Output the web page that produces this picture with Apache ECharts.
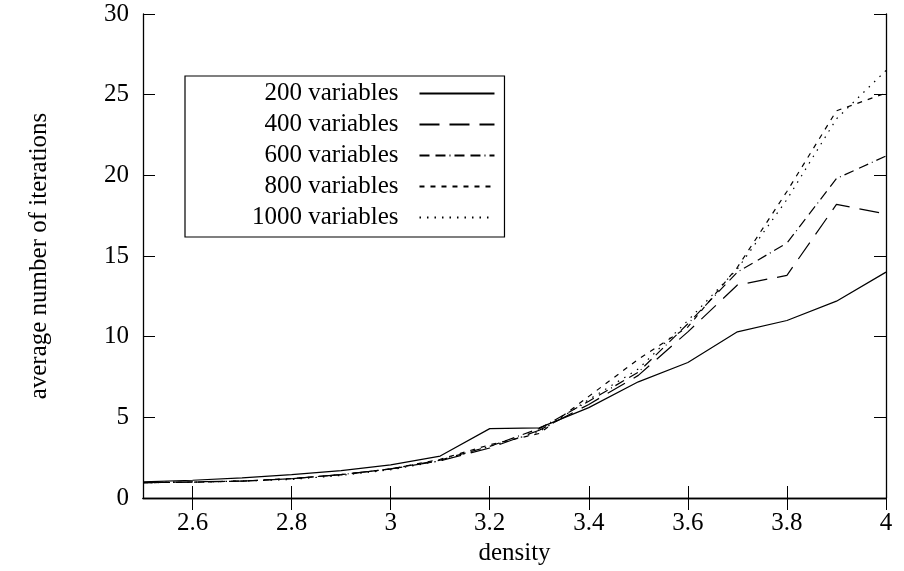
<!DOCTYPE html>
<html>
<head>
<meta charset="utf-8">
<script src="https://cdn.jsdelivr.net/npm/echarts@6/dist/echarts.min.js"></script>
<style>html,body{margin:0;padding:0;background:#fff}#c{width:904px;height:571px}</style>
</head>
<body>
<div id="c"></div>
<script>
const densities = [2.5, 2.6, 2.7, 2.8, 2.9, 3.0, 3.1, 3.2, 3.3, 3.4, 3.5, 3.6, 3.7, 3.8, 3.9, 4.0];
const v200  = [1.0, 1.1, 1.25, 1.45, 1.7, 2.05, 2.6, 4.3, 4.35, 5.6, 7.2, 8.4, 10.3, 11.0, 12.2, 14.0];
const v400  = [0.95, 1.0, 1.05, 1.2, 1.45, 1.8, 2.3, 3.1, 4.2, 5.8, 7.6, 10.3, 13.2, 13.8, 18.2, 17.6];
const v600  = [0.95, 0.98, 1.05, 1.2, 1.45, 1.8, 2.35, 3.2, 4.3, 6.0, 7.8, 10.8, 14.0, 15.8, 19.8, 21.2];
const v800  = [0.95, 0.98, 1.05, 1.2, 1.45, 1.8, 2.4, 3.3, 4.0, 6.3, 8.6, 10.6, 14.3, 19.0, 24.0, 25.1];
const v1000 = [0.95, 0.98, 1.05, 1.15, 1.4, 1.75, 2.3, 3.2, 4.1, 6.1, 8.0, 11.0, 14.2, 18.5, 23.5, 26.5];
const seriesNames = ['200 variables', '400 variables', '600 variables', '800 variables', '1000 variables'];
const xTicks = [2.6, 2.8, 3.0, 3.2, 3.4, 3.6, 3.8, 4.0];
const yTicks = [0, 5, 10, 15, 20, 25, 30];

const FONT = 'Liberation Serif';
const FS = 25;
const allValues = [v200, v400, v600, v800, v1000];
const dashes = ['solid', [20, 10], [10, 6, 10, 4, 1, 4], [5, 6], [1.5, 6]];

const series = allValues.map((vals, i) => ({
  name: seriesNames[i],
  type: 'line',
  symbol: 'none',
  data: densities.map((d, j) => [d, vals[j]]),
  lineStyle: { color: '#000', width: 1.2, type: dashes[i] },
  itemStyle: { color: '#000' },
  animation: false
}));

const axisLineStyle = { lineStyle: { color: '#000', width: 1.3 } };
const tickStyle = { lineStyle: { color: '#000', width: 1 } };
const fmt = v => (Math.round(v * 10) / 10).toString();

const chart = echarts.init(document.getElementById('c'), null, { renderer: 'canvas' });
chart.setOption({
  backgroundColor: '#fff',
  animation: false,
  grid: { left: 143, right: 18, top: 14, bottom: 73 },
  legend: {
    orient: 'vertical',
    left: 185,
    top: 76,
    align: 'right',
    itemWidth: 75,
    itemHeight: 24,
    itemGap: 6,
    padding: [5, 9, 7, 67],
    borderColor: '#000',
    borderWidth: 1.2,
    backgroundColor: '#fff',
    itemStyle: { opacity: 0 },
    textStyle: { fontFamily: FONT, fontSize: FS, lineHeight: 24, color: '#000', padding: [0, 16, 0, 0] },
    data: seriesNames
  },
  xAxis: [{
    type: 'value', min: 2.5, max: 4.0, position: 'bottom',
    name: 'density', nameLocation: 'middle', nameGap: 42,
    nameTextStyle: { fontFamily: FONT, fontSize: FS, color: '#000' },
    axisLine: axisLineStyle,
    axisTick: { inside: true, length: 12, customValues: xTicks, ...tickStyle },
    axisLabel: { customValues: xTicks, formatter: fmt, fontFamily: FONT, fontSize: FS, color: '#000', margin: 13 },
    splitLine: { show: false }
  }, {
    type: 'value', min: 2.5, max: 4.0, position: 'top',
    axisLine: axisLineStyle,
    axisTick: { inside: true, length: 12, customValues: xTicks, ...tickStyle },
    axisLabel: { show: false },
    splitLine: { show: false }
  }],
  yAxis: [{
    type: 'value', min: 0, max: 30, interval: 5, position: 'left',
    name: 'average number of iterations', nameLocation: 'middle', nameGap: 91,
    nameTextStyle: { fontFamily: FONT, fontSize: FS, color: '#000' },
    axisLine: { show: true, ...axisLineStyle },
    axisTick: { inside: true, length: 12, ...tickStyle },
    axisLabel: { fontFamily: FONT, fontSize: FS, color: '#000', margin: 14 },
    splitLine: { show: false }
  }, {
    type: 'value', min: 0, max: 30, interval: 5, position: 'right',
    axisLine: { show: true, ...axisLineStyle },
    axisTick: { inside: true, length: 12, ...tickStyle },
    axisLabel: { show: false },
    splitLine: { show: false }
  }],
  series: series
});
</script>
</body>
</html>
